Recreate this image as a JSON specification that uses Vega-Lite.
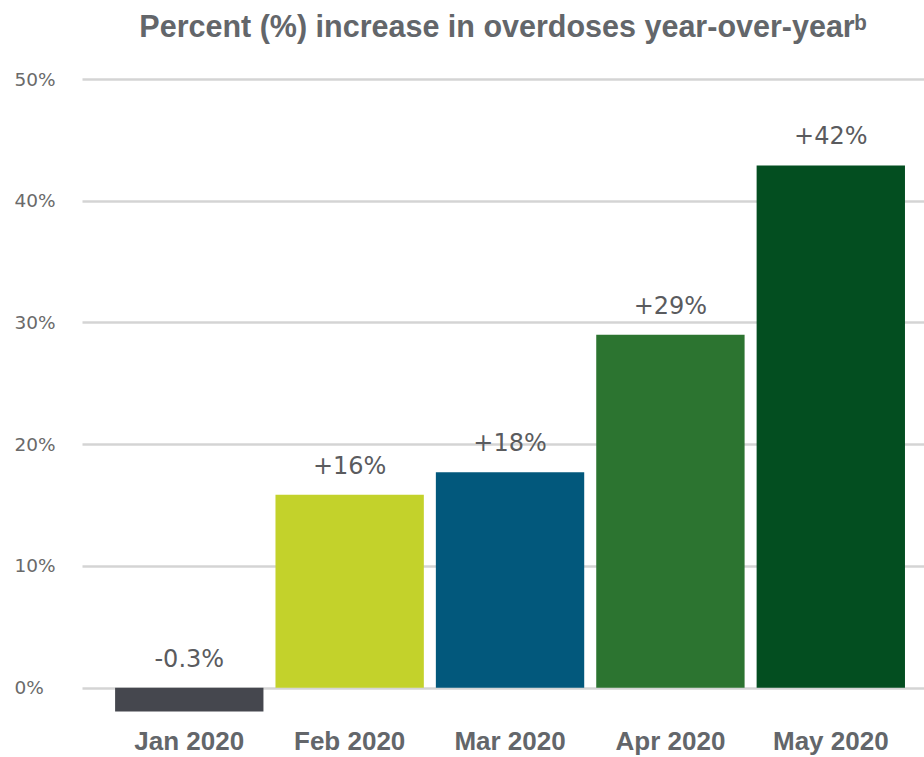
{
  "$schema": "https://vega.github.io/schema/vega-lite/v6.json",
  "width": 842,
  "height": 633,
  "autosize": {"type": "none"},
  "padding": {"left": 82, "top": 79, "right": 0, "bottom": 45},
  "background": "white",
  "view": {"stroke": null},
  "title": {
    "text": "Percent (%) increase in overdoses year-over-yearᵇ",
    "font": "Liberation Sans",
    "fontSize": 30.5,
    "fontWeight": "bold",
    "color": "#63666a",
    "anchor": "middle",
    "baseline": "alphabetic",
    "offset": 3
  },
  "data": {
    "values": [
      {"month": "Jan 2020", "value": -1.95, "label": "-0.3%", "color": "#45474e"},
      {"month": "Feb 2020", "value": 15.85, "label": "+16%", "color": "#c3d22b"},
      {"month": "Mar 2020", "value": 17.7, "label": "+18%", "color": "#02587c"},
      {"month": "Apr 2020", "value": 29.0, "label": "+29%", "color": "#2c7430"},
      {"month": "May 2020", "value": 42.9, "label": "+42%", "color": "#034e20"}
    ]
  },
  "encoding": {
    "x": {
      "field": "month",
      "type": "nominal",
      "sort": null,
      "scale": {"paddingInner": 0.075, "paddingOuter": 0.1625, "align": 0.635},
      "axis": {
        "title": null,
        "labelAngle": 0,
        "domain": false,
        "ticks": false,
        "labelFont": "Liberation Sans",
        "labelFontSize": 26,
        "labelFontWeight": "bold",
        "labelColor": "#63666a",
        "labelPadding": 16
      }
    }
  },
  "layer": [
    {
      "mark": {"type": "bar"},
      "encoding": {
        "y": {
          "field": "value",
          "type": "quantitative",
          "scale": {"domain": [-2, 50], "nice": false, "zero": false},
          "axis": {
            "title": null,
            "values": [0, 10, 20, 30, 40, 50],
            "format": ".0f",
            "labelExpr": "datum.label + '%'",
            "domain": false,
            "ticks": false,
            "grid": true,
            "gridColor": "#d4d4d4",
            "gridWidth": 2.5,
            "labelFont": "DejaVu Sans",
            "labelFontSize": 18.5,
            "labelColor": "#6a6a6a",
            "labelAlign": "left",
            "labelPadding": 68
          }
        },
        "color": {"field": "color", "type": "nominal", "scale": null, "legend": null}
      }
    },
    {
      "transform": [{"calculate": "max(datum.value, 0)", "as": "labelY"}],
      "mark": {
        "type": "text",
        "font": "DejaVu Sans",
        "fontSize": 24,
        "color": "#5a5b5e",
        "baseline": "alphabetic",
        "dy": -21
      },
      "encoding": {
        "y": {"field": "labelY", "type": "quantitative"},
        "text": {"field": "label"}
      }
    }
  ]
}
